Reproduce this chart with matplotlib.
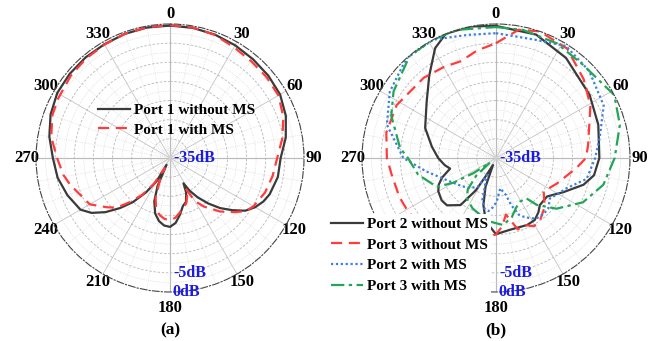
import numpy as np
import matplotlib
matplotlib.use('Agg')
import matplotlib.pyplot as plt

plt.rcParams['font.family'] = ['Liberation Serif', 'DejaVu Serif']
plt.rcParams['font.weight'] = 'bold'

# ========= data (angle in deg, gain in dB) =========
p1_ang = [0, 10, 20, 30, 40, 50, 60, 70, 80, 90, 100, 110, 115, 120, 125, 130, 135, 140, 145,
          149, 152, 155, 160, 165, 170, 175, 180, 185, 190, 195, 200, 204, 207, 210, 215,
          220, 225, 230, 235, 240, 250, 260, 270, 280, 290, 300, 310, 320, 330, 340, 350]
p1_db = [-0.4, -0.5, -0.7, -1.0, -1.3, -1.5, -1.8, -2.8, -4.3, -6.1, -6.4, -7.3, -8.1, -9.3,
         -11.0, -13.8, -16.5, -19.5, -22.5, -25.0, -27.5, -25.0, -22.8, -22.0, -20.0, -18.0,
         -17.0, -17.3, -18.3, -20.0, -23.0, -27.0, -33.0, -28.0, -24.0, -20.0, -16.5, -13.0,
         -10.0, -8.0, -6.5, -5.2, -4.4, -3.0, -1.8, -1.0, -0.8, -0.7, -0.7, -0.5, -0.4]

p1ms_ang = [0, 10, 20, 30, 40, 50, 60, 70, 80, 90, 100, 110, 120, 125, 130, 137, 145, 150, 153,
            156, 160, 165, 170, 175, 180, 185, 190, 195, 200, 205, 208, 212, 217, 222, 227,
            232, 240, 248, 255, 261, 270, 280, 290, 298, 310, 320, 330, 340, 350]
p1ms_db = [-0.3, -0.4, -0.8, -1.6, -2.0, -2.1, -2.3, -3.5, -5.2, -7.0, -7.8, -8.6, -9.8, -10.8,
           -13.0, -15.9, -19.5, -22.0, -26.0, -24.0, -22.5, -21.5, -20.5, -19.3, -18.8, -19.0,
           -19.8, -21.0, -24.0, -29.0, -32.0, -27.0, -23.0, -19.6, -16.0, -14.1, -10.8, -9.6,
           -8.0, -6.8, -5.5, -3.5, -2.3, -1.9, -1.3, -1.0, -0.8, -0.5, -0.3]

p2_ang = [0, 18, 35, 56, 72, 90, 100, 107, 117, 122, 127, 137, 142, 148, 155, 169, 180, 185,
          190, 195, 200, 203, 209, 212, 217, 226, 232, 240, 245, 250, 257, 262, 270, 280,
          293, 309, 321, 331, 338, 349]
p2_db = [-0.5, -1.1, -3.1, -5.5, -6.9, -8.0, -9.0, -11.1, -15.3, -17.0, -18.3, -18.2, -17.0,
         -15.9, -15.7, -15.9, -15.1, -17.0, -19.0, -22.3, -27.0, -33.0, -30.0, -25.0, -19.6,
         -17.2, -17.0, -17.6, -18.5, -20.0, -22.7, -21.5, -19.9, -18.0, -14.9, -11.7, -7.3,
         -2.2, 0.0, 0.0]

p3_ang = [0, 10, 19, 33, 48, 61, 82, 90, 97, 113, 125, 135, 145, 151, 157, 163, 170, 175, 180,
          190, 200, 210, 220, 230, 238, 248, 261, 270, 283, 298, 318, 330, 340, 350]
p3_db = [-5.0, -1.0, 0.0, -0.9, -4.2, -6.8, -10.7, -11.5, -13.8, -17.8, -19.8, -17.0, -15.0,
         -14.6, -16.0, -15.5, -20.0, -17.0, -15.0, -14.0, -13.0, -12.0, -10.5, -9.0, -8.1,
         -7.8, -7.4, -6.5, -5.6, -5.6, -6.8, -7.6, -8.1, -6.5]

p2ms_ang = [0, 19, 32, 47, 64, 79, 90, 103, 113, 120, 127, 134, 140, 146, 150, 155, 158, 162,
            165, 168, 172, 179, 184, 188, 193, 198, 203, 207, 212, 221, 230, 243, 259, 270,
            287, 302, 318, 332, 347]
p2ms_db = [-2.4, -2.4, -0.5, -1.7, -3.7, -7.4, -9.1, -10.7, -14.9, -16.3, -17.4, -16.0, -15.8,
           -16.0, -16.8, -18.1, -19.0, -22.0, -25.0, -26.0, -27.0, -23.6, -22.0, -21.0, -21.5,
           -23.5, -28.0, -30.0, -26.2, -24.6, -23.5, -21.5, -16.5, -10.8, -5.2, -2.3, 0.0,
           0.0, -2.0]

p3ms_ang = [0, 12, 28, 43, 62, 75, 90, 104, 117, 130, 139, 143, 151, 158, 165, 174, 185, 195,
            205, 216, 222, 228, 233, 236, 240, 244, 258, 270, 276, 292, 303, 320, 332, 343]
p3ms_db = [-0.8, -0.8, -1.1, -1.7, 0.0, -1.5, -4.0, -6.1, -9.5, -14.4, -18.8, -21.8, -22.0,
           -21.0, -19.0, -17.4, -18.3, -19.5, -20.5, -22.0, -24.0, -28.0, -33.0, -28.0, -22.0,
           -17.8, -14.2, -12.0, -9.8, -5.5, -3.1, 0.0, 0.0, 0.0]

angle_ticks = list(range(0, 360, 30))
# 180 is drawn separately (sits lower, below the 0dB label)
labels_a = ['' if a == 180 else str(a) for a in angle_ticks]
# in panel (b) the legend hides the 210 and 240 labels
labels_b = ['' if a in (180, 210, 240) else str(a) for a in angle_ticks]

panel_a = [('Port 1 without MS', p1_ang, p1_db, '#3a3a3a', '-'),
           ('Port 1 with MS', p1ms_ang, p1ms_db, '#ff3b3b', (0, (5, 3)))]
panel_b = [('Port 2 without MS', p2_ang, p2_db, '#3a3a3a', '-'),
           ('Port 3 without MS', p3_ang, p3_db, '#ff3b3b', (0, (5, 3))),
           ('Port 2 with MS', p2ms_ang, p2ms_db, '#3d7fe0', (0, (1, 1.2))),
           ('Port 3 with MS', p3ms_ang, p3ms_db, '#22a556', (0, (6, 2, 1.5, 2)))]

fig = plt.figure(figsize=(6.5, 3.41), dpi=100)


def closed(a, d):
    t = np.deg2rad(np.r_[a, a[0]])
    return t, np.r_[d, d[0]]


def setup(ax, labels):
    ax.set_theta_zero_location('N')
    ax.set_theta_direction(-1)
    ax.set_ylim(-35, 0)
    ax.set_xticks(np.deg2rad(angle_ticks))
    ax.set_xticklabels(labels, fontsize=12, fontweight='bold')
    ax.set_xticks(np.deg2rad(np.arange(0, 360, 10)), minor=True)
    ax.set_yticks(np.arange(-30, 0, 5))
    ax.set_yticks(np.arange(-32.5, 0, 2.5), minor=True)
    ax.set_yticklabels([])
    ax.tick_params(axis='x', pad=0, length=0)
    ax.tick_params(axis='x', which='minor', length=0)
    ax.grid(which='major', axis='x', color='#c4c4c4', lw=0.6, ls='-')
    ax.grid(which='minor', axis='x', color='#d4d4d4', lw=0.5, ls=':')
    ax.grid(which='major', axis='y', color='#b8b8b8', lw=0.6, ls=(0, (3, 2)))
    ax.grid(which='minor', axis='y', color='#d0d0d0', lw=0.5, ls=':')
    for a in (0, 90, 180, 270):
        ax.axvline(np.deg2rad(a), color='#8a8a8a', lw=0.8, zorder=1)
    ax.spines['polar'].set_linestyle((0, (6, 2, 1, 2)))
    ax.spines['polar'].set_linewidth(0.8)
    ax.spines['polar'].set_color('#444444')
    ax.annotate('180', xy=(np.pi, 0), xytext=(0, -16), textcoords='offset pixels',
                ha='center', va='center', fontsize=12, fontweight='bold', annotation_clip=False)
    # radial labels
    kw = dict(color='#1c1ce0', fontsize=11.5, fontweight='bold', ha='left', va='center', zorder=6)
    ax.text(0, -35, ' -35dB', **kw)
    ax.text(np.deg2rad(178.5), -5, '-5dB', **kw)
    ax.text(np.deg2rad(178.9), 0, '0dB', **kw)


ax1 = fig.add_axes([0.0554, 0.1437, 0.4123, 0.7859], projection='polar')
setup(ax1, labels_a)
for lab, a, d, c, ls in panel_a:
    t, r = closed(a, d)
    ax1.plot(t, r, color=c, ls=ls, lw=1.6, label=lab)
ax1.legend(loc='upper left', bbox_to_anchor=(0.146, 0.705), bbox_transform=fig.transFigure,
           frameon=False, fontsize=11, handlelength=2.1, handletextpad=0.25,
           labelspacing=0.38, borderpad=0.2, borderaxespad=0)

ax2 = fig.add_axes([0.5569, 0.1437, 0.4123, 0.7859], projection='polar')
setup(ax2, labels_b)
for lab, a, d, c, ls in panel_b:
    t, r = closed(a, d)
    ax2.plot(t, r, color=c, ls=ls, lw=1.6, label=lab)
leg2 = ax2.legend(loc='upper left', bbox_to_anchor=(0.505, 0.372), bbox_transform=fig.transFigure,
                  frameon=True, facecolor='white', edgecolor='none', framealpha=1,
                  fontsize=11, handlelength=2.1, handletextpad=0.25,
                  labelspacing=0.46, borderpad=0.2, borderaxespad=0)
leg2.set_zorder(5)

fig.text(0.2615, 0.032, '(a)', ha='center', va='center', fontsize=12.5, fontweight='bold')
fig.text(0.763, 0.032, '(b)', ha='center', va='center', fontsize=12.5, fontweight='bold')

fig.savefig('out.png', dpi=100, facecolor='white')
